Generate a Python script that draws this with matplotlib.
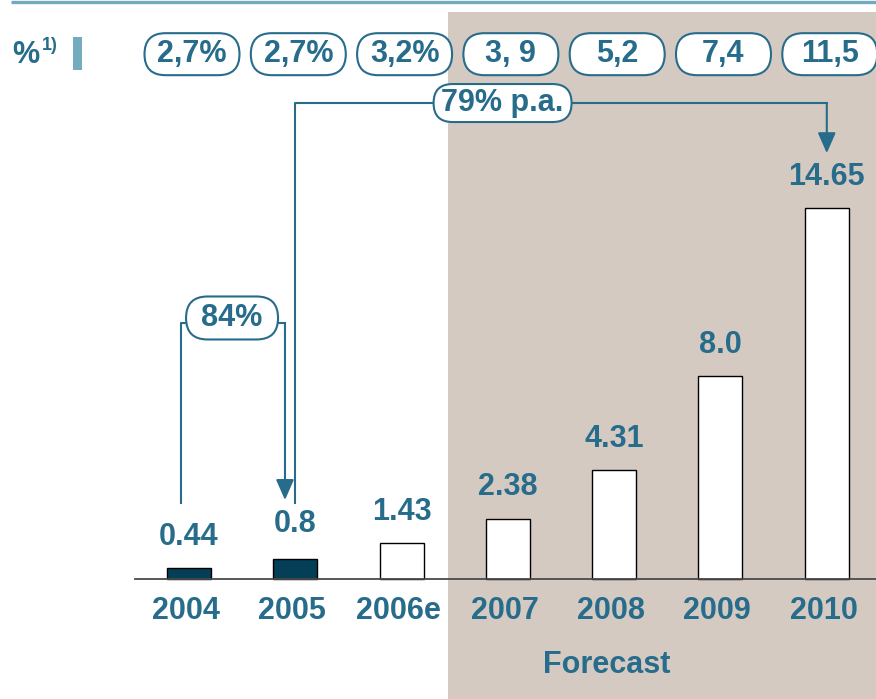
import matplotlib
matplotlib.use("Agg")
import matplotlib.pyplot as plt
from matplotlib.patches import FancyBboxPatch, Rectangle
from matplotlib.transforms import IdentityTransform

# market volume per year and penetration share shown in the pills
years = ["2004", "2005", "2006e", "2007", "2008", "2009", "2010"]
values = [0.44, 0.8, 1.43, 2.38, 4.31, 8.0, 14.65]
value_labels = ["0.44", "0.8", "1.43", "2.38", "4.31", "8.0", "14.65"]
shares = ["2,7%", "2,7%", "3,2%", "3, 9", "5,2", "7,4", "11,5"]
actual = [True, True, False, False, False, False, False]
first_forecast = 3

TEAL = "#276c8b"
DARK = "#053f57"
SHADE = "#d5cac2"
FONT = ["Liberation Sans Narrow", "Liberation Sans", "DejaVu Sans"]
FS = 22

W, H = 876, 699
fig = plt.figure(figsize=(W / 100, H / 100), dpi=100)
ax = fig.add_axes([0, 0, 1, 1])
ax.set_xlim(-1.778, 6.463)
ax.set_ylim(-4.74, 22.87)
ax.axis("off")

x = list(range(len(years)))

# forecast background
ax.axvspan(first_forecast - 0.56, 6.463, ymin=0, ymax=1 - 12 / H,
           color=SHADE, lw=0, zorder=0)

# top rule
ax.plot([11 / W, 1], [1 - 1.5 / H, 1 - 1.5 / H], transform=ax.transAxes,
        color="#72abc1", lw=2.4, solid_capstyle="butt", clip_on=False)

# bars
colors = [DARK if a else "white" for a in actual]
ax.bar(x, values, width=0.414, color=colors, edgecolor="black", lw=1.0, zorder=3)
ax.plot([-0.508, 6.463], [0, 0], color="#4a4a4a", lw=1.3, zorder=4)

for xi, v, lab in zip(x, values, value_labels):
    dy = 25 if lab == "0.8" else 22.5
    ax.annotate(lab, (xi, v), xytext=(0, dy), textcoords="offset points",
                ha="center", va="center", fontsize=FS, fontweight="bold",
                color=TEAL, family=FONT, zorder=5)

for xi, yr in zip(x, years):
    ax.text(xi - 0.03, -1.264, yr, ha="center", va="center", fontsize=FS,
            fontweight="bold", color=TEAL, family=FONT)

ax.text(3.93, -3.40, "Forecast", ha="center", va="center", fontsize=FS,
        fontweight="bold", color=TEAL, family=FONT)


def pill(xd, yd, text, w, h, dx=0):
    # stadium-shaped label, sized in pixels around a data position
    cx, cy = ax.transData.transform((xd, yd))
    cx += dx
    r = h / 2
    box = FancyBboxPatch((cx - w / 2 + r, cy - h / 2 + r), w - 2 * r, h - 2 * r,
                         boxstyle=f"round,pad={r},rounding_size={r}",
                         transform=IdentityTransform(), facecolor="white",
                         edgecolor=TEAL, lw=1.5, zorder=6)
    ax.add_artist(box)
    ax.text(cx, cy, text, transform=IdentityTransform(), ha="center", va="center",
            fontsize=FS, fontweight="bold", color=TEAL, family=FONT, zorder=7)


for xi, s in zip(x, shares):
    pill(xi, 20.73, s, 95, 42, dx=3)

# header label on the pill row
ax.text(12 / W, 1 - 55 / H, "%", transform=ax.transAxes, ha="left", va="center",
        fontsize=FS, fontweight="bold", color=TEAL, family=FONT)
ax.text(42 / W, 1 - 46 / H, "1)", transform=ax.transAxes, ha="left", va="center",
        fontsize=13, fontweight="bold", color=TEAL, family=FONT)
ax.add_patch(Rectangle((73 / W, 1 - 70 / H), 9 / W, 33 / H, transform=ax.transAxes,
                       color="#74abbe", lw=0))

arrow = dict(arrowstyle="-|>,head_length=1.25,head_width=0.55", color=TEAL,
             lw=1.5, shrinkA=0, shrinkB=0)

# 2005 -> 2010 growth bracket
ax.plot([1.0, 1.0, 6.0], [3.0, 18.8, 18.8], color=TEAL, lw=1.5, zorder=5)
ax.annotate("", xy=(6.0, 16.82), xytext=(6.0, 18.8), arrowprops=arrow, zorder=5)
pill(2.95, 18.8, "79% p.a.", 138, 38)

# 2004 -> 2005 growth bracket
ax.plot([-0.075, -0.075, 0.903], [3.0, 10.11, 10.11], color=TEAL, lw=1.5, zorder=5)
ax.annotate("", xy=(0.903, 3.12), xytext=(0.903, 10.11), arrowprops=arrow, zorder=5)
pill(0.405, 10.31, "84%", 92, 43)

fig.savefig("out.png", dpi=100)
